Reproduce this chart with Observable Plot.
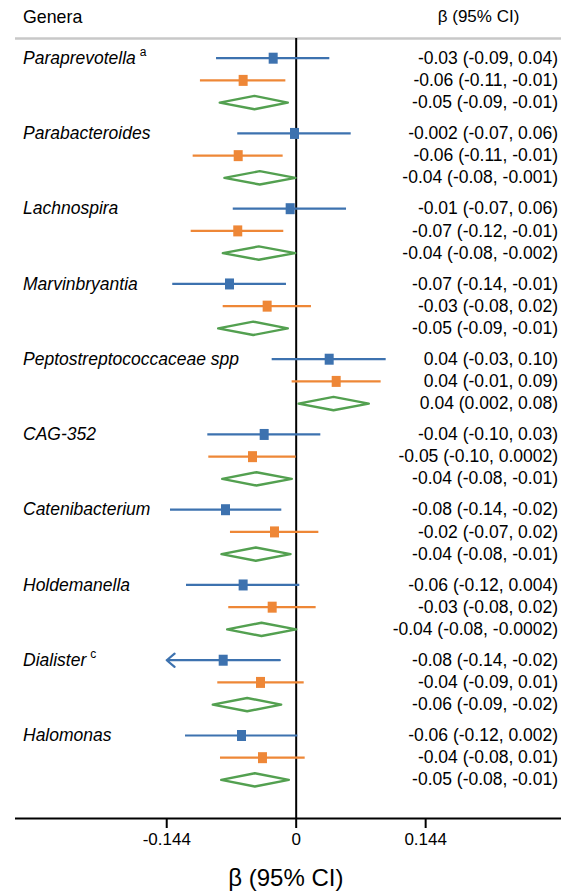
<!DOCTYPE html>
<html>
<head>
<meta charset="utf-8">
<script src="https://cdn.jsdelivr.net/npm/d3@7"></script>
<script src="https://cdn.jsdelivr.net/npm/@observablehq/plot@0.6"></script>
<style>
  html, body { margin: 0; padding: 0; background: white; }
</style>
</head>
<body>
<script>
// ---- Data ----
const genera = ["Paraprevotella", "Parabacteroides", "Lachnospira", "Marvinbryantia",
  "Peptostreptococcaceae spp", "CAG-352", "Catenibacterium", "Holdemanella", "Dialister", "Halomonas"];
const superscripts = ["a", "", "", "", "", "", "", "", "c", ""];
const series = ["model1", "model2", "pooled"];

// point estimates per genus: [blue, orange, green]
const estimates = [
  [-0.0256, -0.059, -0.0464],
  [-0.0019, -0.0645, -0.0405],
  [-0.0067, -0.065, -0.0416],
  [-0.0742, -0.0323, -0.0478],
  [0.0367, 0.0445, 0.0415],
  [-0.0356, -0.0486, -0.0442],
  [-0.0786, -0.0241, -0.0449],
  [-0.059, -0.0267, -0.0386],
  [-0.0812, -0.0397, -0.0545],
  [-0.0608, -0.0375, -0.046]
];
const lowers = [
  [-0.0886, -0.1065, -0.085],
  [-0.065, -0.1146, -0.0798],
  [-0.070, -0.1168, -0.0816],
  [-0.1373, -0.0812, -0.0868],
  [-0.0267, -0.0045, 0.0026],
  [-0.0983, -0.0972, -0.0823],
  [-0.1398, -0.0731, -0.0831],
  [-0.122, -0.075, -0.0768],
  [-0.146, -0.0872, -0.0928],
  [-0.1231, -0.0842, -0.0834]
];
const uppers = [
  [0.0374, -0.0115, -0.0093],
  [0.0612, -0.0145, -0.0008],
  [0.056, -0.0138, -0.0011],
  [-0.0108, 0.017, -0.0093],
  [0.1001, 0.0945, 0.0808],
  [0.0274, 0.0, -0.0049],
  [-0.016, 0.0252, -0.0063],
  [0.004, 0.0222, 0.0],
  [-0.0182, 0.0089, -0.0167],
  [0.0018, 0.01, -0.0082]
];
const ciLabels = [
  ["-0.03 (-0.09, 0.04)", "-0.06 (-0.11, -0.01)", "-0.05 (-0.09, -0.01)"],
  ["-0.002 (-0.07, 0.06)", "-0.06 (-0.11, -0.01)", "-0.04 (-0.08, -0.001)"],
  ["-0.01 (-0.07, 0.06)", "-0.07 (-0.12, -0.01)", "-0.04 (-0.08, -0.002)"],
  ["-0.07 (-0.14, -0.01)", "-0.03 (-0.08, 0.02)", "-0.05 (-0.09, -0.01)"],
  ["0.04 (-0.03, 0.10)", "0.04 (-0.01, 0.09)", "0.04 (0.002, 0.08)"],
  ["-0.04 (-0.10, 0.03)", "-0.05 (-0.10, 0.0002)", "-0.04 (-0.08, -0.01)"],
  ["-0.08 (-0.14, -0.02)", "-0.02 (-0.07, 0.02)", "-0.04 (-0.08, -0.01)"],
  ["-0.06 (-0.12, 0.004)", "-0.03 (-0.08, 0.02)", "-0.04 (-0.08, -0.0002)"],
  ["-0.08 (-0.14, -0.02)", "-0.04 (-0.09, 0.01)", "-0.06 (-0.09, -0.02)"],
  ["-0.06 (-0.12, 0.002)", "-0.04 (-0.08, 0.01)", "-0.05 (-0.08, -0.01)"]
];
const tickValues = [-0.144, 0, 0.144];
const tickLabels = ["-0.144", "0", "0.144"];
const headerLeft = "Genera";
const headerRight = "β (95% CI)";
const axisTitle = "β (95% CI)";

// ---- Layout / style ----
const colors = {model1: "#3D72AF", model2: "#EE8737", pooled: "#53A050"};
const GAP = 3.39;            // row units between genus groups
const displayMin = -0.144;   // CI truncated (arrow) beyond this
const diamondHalf = 0.3;     // row units
const FONT = "'Liberation Sans', Arial, Helvetica, sans-serif";
const FS = 17.5;

// ---- Build table ----
const rows = [];
genera.forEach((g, gi) => {
  series.forEach((s, si) => {
    rows.push({
      genus: g, gi, series: s,
      pos: gi * GAP + si,
      est: estimates[gi][si], lo: lowers[gi][si], hi: uppers[gi][si],
      label: ciLabels[gi][si]
    });
  });
});
const ciRows = rows.filter(d => d.series !== "pooled");
const ruleRows = ciRows.filter(d => d.lo >= displayMin);
const arrowRows = ciRows.filter(d => d.lo < displayMin);
const diamonds = rows.filter(d => d.series === "pooled").flatMap((d, k) => [
  {id: k, x: d.lo, y: d.pos},
  {id: k, x: d.est, y: d.pos - diamondHalf},
  {id: k, x: d.hi, y: d.pos},
  {id: k, x: d.est, y: d.pos + diamondHalf}
]);
const genusRows = genera.map((g, gi) => ({genus: g, pos: gi * GAP}));

const squareSymbol = {
  draw(context) {
    const w = 9, h = 11;
    context.rect(-w / 2, -h / 2, w, h);
  }
};

const yTop = -0.887, yBottom = 34.25;

const svg = Plot.plot({
  width: 561,
  height: 894,
  marginTop: 38,
  marginBottom: 76,
  marginLeft: 15,
  marginRight: 0,
  style: {fontFamily: FONT, fontSize: FS + "px", color: "black", background: "white", overflow: "visible"},
  x: {domain: [-0.3122, 0.2951], axis: null},
  y: {domain: [yTop, yBottom], reverse: true, axis: null},
  marks: [
    // header separator
    Plot.ruleY([yTop], {stroke: "#c8c8c8", strokeWidth: 2.5}),
    // axis baseline
    Plot.ruleY([yBottom], {stroke: "black", strokeWidth: 2}),
    // zero line
    Plot.ruleX([0], {stroke: "black", strokeWidth: 2}),
    // CI lines
    Plot.ruleY(ruleRows, {y: "pos", x1: "lo", x2: "hi", stroke: d => colors[d.series], strokeWidth: 2.2}),
    Plot.arrow(arrowRows, {x1: "hi", x2: () => displayMin, y1: "pos", y2: "pos",
      stroke: d => colors[d.series], strokeWidth: 2.2, headLength: 7, headAngle: 80}),
    // point estimates
    Plot.dot(ciRows, {x: "est", y: "pos", r: 5, symbol: squareSymbol,
      fill: d => colors[d.series], stroke: "none"}),
    // pooled diamonds
    Plot.line(diamonds, {x: "x", y: "y", z: "id", curve: "linear-closed",
      stroke: colors.pooled, strokeWidth: 2.4, fill: "white"}),
    // genus names
    Plot.text(genusRows, {y: "pos", text: "genus", frameAnchor: "left", textAnchor: "start",
      dx: 7.5, fontStyle: "italic", fontSize: FS, fill: "black", lineAnchor: "middle"}),
    // CI labels
    Plot.text(rows, {y: "pos", text: "label", frameAnchor: "right", textAnchor: "end",
      dx: -3.5, fontSize: FS, fill: "black", lineAnchor: "middle"}),
    // headers
    Plot.text([headerLeft], {frameAnchor: "top-left", textAnchor: "start", lineAnchor: "middle",
      dx: 7.5, dy: -21.5, fontSize: 17.8, fill: "black"}),
    Plot.text([headerRight], {frameAnchor: "top-right", textAnchor: "middle", lineAnchor: "middle",
      dx: -83, dy: -21.5, fontSize: 17, fill: "black"}),
    // x axis
    Plot.axisX({ticks: tickValues, tickFormat: d => tickLabels[tickValues.indexOf(d)],
      tickSize: 10, tickPadding: 4, fontSize: 17, strokeWidth: 2, stroke: "black",
      fill: "black", label: null, anchor: "bottom"}),
    Plot.text([axisTitle], {frameAnchor: "bottom", textAnchor: "middle", lineAnchor: "middle",
      dx: -2.7, dy: 60, fontSize: 24, fill: "black"})
  ]
});

// superscripts after genus names
const supMap = new Map(genera.map((g, i) => [g, superscripts[i]]));
svg.querySelectorAll("text").forEach(t => {
  const s = supMap.get(t.textContent);
  if (s) {
    const ts = document.createElementNS("http://www.w3.org/2000/svg", "tspan");
    ts.setAttribute("dx", "4");
    ts.setAttribute("dy", "-8");
    ts.setAttribute("font-size", "12");
    ts.setAttribute("font-style", "normal");
    ts.textContent = s;
    t.appendChild(ts);
  }
});

document.body.appendChild(svg);
</script>
</body>
</html>
